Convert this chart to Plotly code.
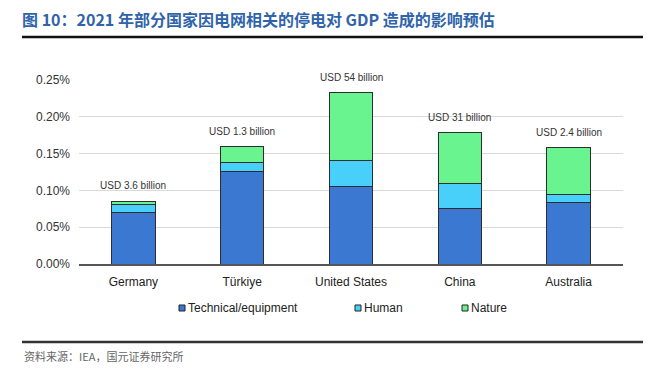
import plotly.graph_objects as go

categories = ["Germany", "Türkiye", "United States", "China", "Australia"]
technical = [0.070, 0.126, 0.105, 0.075, 0.083]
human = [0.011, 0.012, 0.036, 0.035, 0.012]
nature = [0.004, 0.021, 0.092, 0.068, 0.063]
cost_labels = ["USD 3.6 billion", "USD 1.3 billion", "USD 54 billion", "USD 31 billion", "USD 2.4 billion"]
series_names = ["Technical/equipment", "Human", "Nature"]
y_ticks = [0.00, 0.05, 0.10, 0.15, 0.20, 0.25]

colors = ["#3B78D2", "#48D0FA", "#69F48F"]
edge = "#2d2d2d"

W, H = 655, 378
L, R, T, B = 79, 623, 80, 264


def px(x):
    return (x - L) / (R - L)


def py(y):
    return (B - y) / (B - T)


fig = go.Figure()
for name, vals, col in zip(series_names, [technical, human, nature], colors):
    fig.add_trace(go.Bar(
        x=categories, y=vals, name=name, width=0.4,
        marker=dict(color=col, line=dict(color=edge, width=1)),
        showlegend=False,
    ))

totals = [a + b + c for a, b, c in zip(technical, human, nature)]
annotations = []
for cat, tot, lab in zip(categories, totals, cost_labels):
    annotations.append(dict(
        x=cat, y=tot, xref="x", yref="y", text=lab, showarrow=False,
        yanchor="bottom", yshift=8,
        font=dict(family="Liberation Sans, Arial", size=10, color="#333333"),
    ))

# manual legend
shapes = []
legend_x = [182, 358, 465]
legend_y = 308
for name, col, lx in zip(series_names, colors, legend_x):
    shapes.append(dict(
        type="rect", xref="paper", yref="paper",
        x0=px(lx - 3), x1=px(lx + 3), y0=py(legend_y + 3), y1=py(legend_y - 3),
        fillcolor=col, line=dict(color="#222222", width=1),
    ))
    annotations.append(dict(
        x=px(lx + 4), y=py(legend_y), xref="paper", yref="paper",
        text=name, showarrow=False, xanchor="left", yanchor="middle",
        font=dict(family="Liberation Sans, Arial", size=12, color="#222222"),
    ))

# header / footer rules
for yy, col in [(37, "#111111"), (342, "#333333")]:
    shapes.append(dict(
        type="line", xref="paper", yref="paper",
        x0=px(22), x1=px(643), y0=py(yy), y1=py(yy),
        line=dict(color=col, width=2.5),
    ))

annotations.append(dict(
    x=px(22), y=py(356), xref="paper", yref="paper",
    text="资料来源：IEA，国元证券研究所", showarrow=False,
    xanchor="left", yanchor="middle",
    font=dict(family="Noto Sans CJK SC", size=11, color="#666666"),
))

fig.update_layout(
    width=W, height=H, autosize=False,
    margin=dict(l=L, r=W - R, t=T, b=H - B, pad=0),
    plot_bgcolor="white", paper_bgcolor="white",
    barmode="stack",
    title=dict(
        text="<b>图 10：2021 年部分国家因电网相关的停电对 GDP 造成的影响预估</b>",
        x=22 / W, xanchor="left", xref="container",
        y=1 - 20 / H, yanchor="middle", yref="container",
        font=dict(family="Noto Sans CJK SC", size=16, color="#2F64AA"),
    ),
    xaxis=dict(
        showline=True, linecolor="#555555", linewidth=1.5,
        showgrid=False, ticks="", ticklabelstandoff=6,
        tickfont=dict(family="Liberation Sans, Arial", size=12, color="#222222"),
    ),
    yaxis=dict(
        range=[0, 0.25], tickvals=y_ticks,
        ticktext=[f"{v:.2f}%" for v in y_ticks],
        showgrid=True, gridcolor="#d9d9d9", gridwidth=1,
        zeroline=False, showline=False, ticks="", ticklabelstandoff=8,
        tickfont=dict(family="Liberation Sans, Arial", size=12, color="#333333"),
    ),
    annotations=annotations,
    shapes=shapes,
)

fig.write_html(
    "out.html",
    config={"displayModeBar": False},
    post_script="document.body.style.margin='0';document.body.style.overflow='hidden';",
)
